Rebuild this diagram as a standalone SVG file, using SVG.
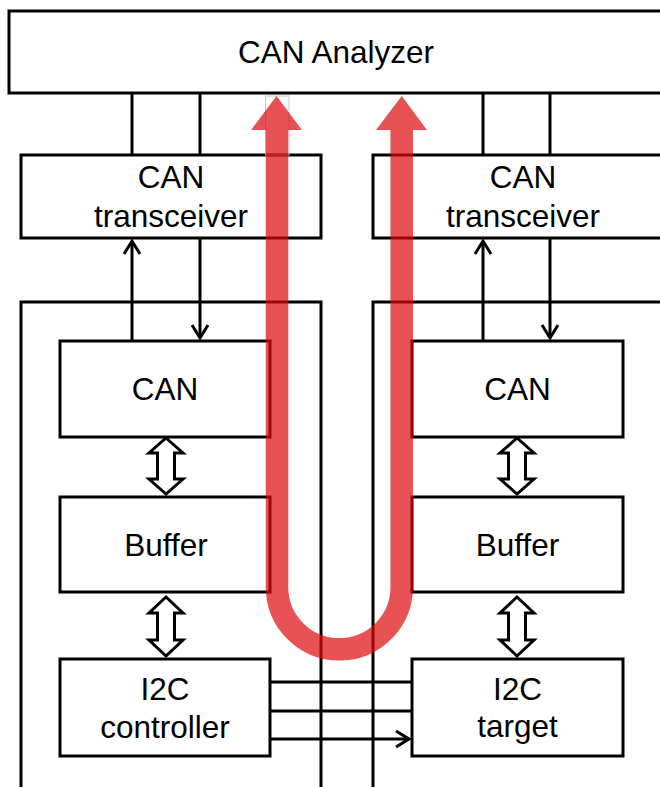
<svg xmlns="http://www.w3.org/2000/svg" width="660" height="787" viewBox="0 0 660 787">
<style>
.box{fill:#fff;stroke:#000;stroke-width:3}
.frame{fill:none;stroke:#000;stroke-width:3}
.ln{fill:none;stroke:#000;stroke-width:3}
.hd{fill:none;stroke:#000;stroke-width:3;stroke-linejoin:miter}
.dbl{fill:#fff;stroke:#000;stroke-width:3;stroke-linejoin:miter}
.t{font-family:"Liberation Sans",Arial,sans-serif;font-size:31.5px;fill:#000;text-anchor:middle}
.red{fill:#DE080C;stroke:none}
</style>
<rect width="660" height="787" fill="#fff"/>
<g id="mcu-left"><rect class="frame" x="21" y="302" width="300" height="500"/></g>
<g id="mcu-right"><rect class="frame" x="373" y="302" width="300" height="500"/></g>
<g id="analyzer"><rect class="box" x="9" y="11" width="660" height="82"/><text class="t" x="336" y="63">CAN Analyzer</text></g>
<g id="transceiver-left"><rect class="box" x="21" y="155" width="300" height="83"/><text class="t" x="171" y="188">CAN</text><text class="t" x="171" y="227">transceiver</text></g>
<g id="transceiver-right"><rect class="box" x="373" y="155" width="300" height="83"/><text class="t" x="523" y="188">CAN</text><text class="t" x="523" y="227">transceiver</text></g>
<g id="can-left"><rect class="box" x="60" y="341" width="210" height="96"/><text class="t" x="165" y="400">CAN</text></g>
<g id="can-right"><rect class="box" x="412" y="341" width="211" height="96"/><text class="t" x="517.5" y="400">CAN</text></g>
<g id="buffer-left"><rect class="box" x="60" y="497" width="210" height="95"/><text class="t" x="166" y="556">Buffer</text></g>
<g id="buffer-right"><rect class="box" x="412" y="497" width="211" height="95"/><text class="t" x="517.5" y="556">Buffer</text></g>
<g id="i2c-controller"><rect class="box" x="60" y="659" width="210" height="97"/><text class="t" x="165" y="700">I2C</text><text class="t" x="165" y="738">controller</text></g>
<g id="i2c-target"><rect class="box" x="412" y="659" width="211" height="97"/><text class="t" x="517.5" y="700">I2C</text><text class="t" x="517.5" y="737">target</text></g>
<g id="connectors">
<line class="ln" x1="132" y1="93" x2="132" y2="155"/>
<line class="ln" x1="200" y1="93" x2="200" y2="155"/>
<line class="ln" x1="483" y1="93" x2="483" y2="155"/>
<line class="ln" x1="550" y1="93" x2="550" y2="155"/>
<line class="ln" x1="132" y1="341" x2="132" y2="241"/>
<polyline class="hd" points="124,254 132,241 140,254"/>
<line class="ln" x1="200" y1="238" x2="200" y2="338"/>
<polyline class="hd" points="192,325 200,338 208,325"/>
<line class="ln" x1="483" y1="341" x2="483" y2="241"/>
<polyline class="hd" points="475,254 483,241 491,254"/>
<line class="ln" x1="550" y1="238" x2="550" y2="338"/>
<polyline class="hd" points="542,325 550,338 558,325"/>
<polygon class="dbl" points="166,438 183,453 174.5,453 174.5,479 183,479 166,494 149,479 157.5,479 157.5,453 149,453"/>
<polygon class="dbl" points="517,438 534,453 525.5,453 525.5,479 534,479 517,494 500,479 508.5,479 508.5,453 500,453"/>
<polygon class="dbl" points="166,597 183,613 174.5,613 174.5,640 183,640 166,656 149,640 157.5,640 157.5,613 149,613"/>
<polygon class="dbl" points="517,597 534,613 525.5,613 525.5,640 534,640 517,656 500,640 508.5,640 508.5,613 500,613"/>
<line class="ln" x1="270" y1="682" x2="412" y2="682"/>
<line class="ln" x1="270" y1="711" x2="412" y2="711"/>
<line class="ln" x1="270" y1="739" x2="409" y2="739"/>
<polyline class="hd" points="396,731 409,739 396,747"/>
</g>
<rect x="265.5" y="96" width="23.5" height="59" fill="none" stroke="#c8c8c8" stroke-width="1"/>
<g id="flow-arrow" opacity="0.7">
<path d="M277 129 L277 587 A62.35 62.35 0 0 0 401.7 587 L401.7 129" fill="none" stroke="#DE080C" stroke-width="22.5"/>
<polygon class="red" points="276.5,96 251,130 302,130"/>
<polygon class="red" points="401.7,96 376,130 427,130"/>
</g>
</svg>
